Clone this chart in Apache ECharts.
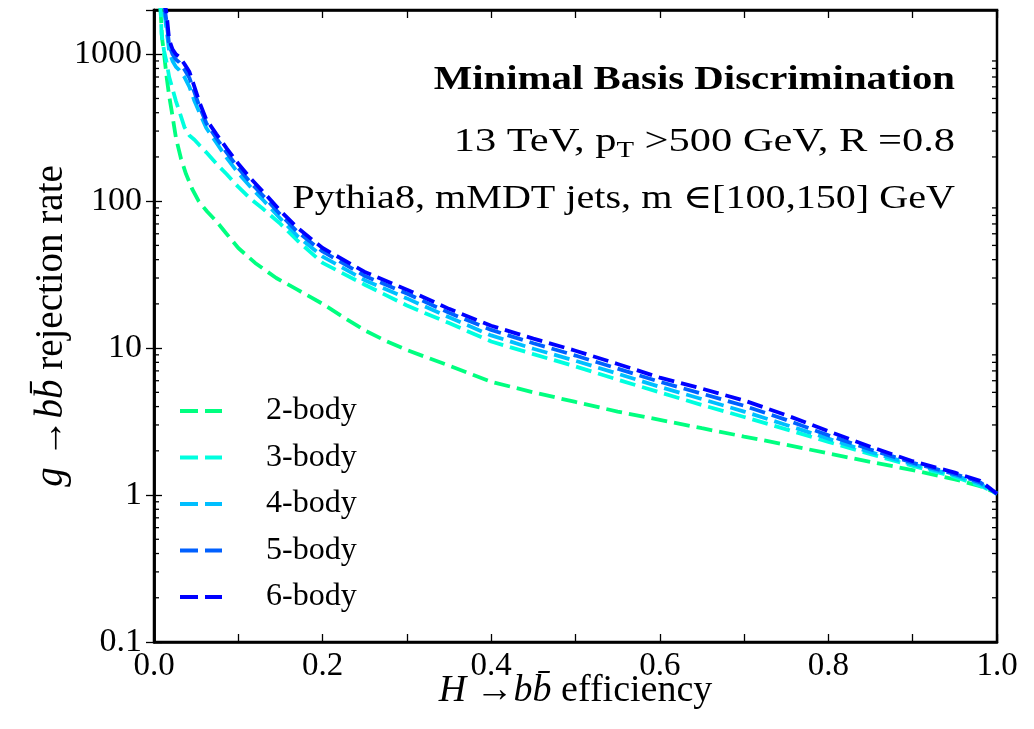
<!DOCTYPE html>
<html>
<head>
<meta charset="utf-8">
<script src="https://cdn.jsdelivr.net/npm/echarts@6/dist/echarts.min.js"></script>
<style>
  html, body { margin: 0; padding: 0; background: #ffffff; }
  #chart { width: 1034px; height: 729px; }
</style>
</head>
<body>
<div id="chart"></div>
<script>
// Curve names and colours (green -> blue as the basis grows)
const SERIES_NAMES = ['2-body', '3-body', '4-body', '5-body', '6-body'];
const SERIES_COLORS = ['#00ff80', '#00ffdf', '#00bfff', '#0060ff', '#0000ff'];

// H->bb efficiency (x) and g->bb rejection rate (y) for each curve
const EFF_2 = [0.006, 0.008, 0.0095, 0.012, 0.015, 0.018, 0.021, 0.026, 0.032, 0.038, 0.045, 0.053, 0.063, 0.074, 0.086,
  0.1, 0.12, 0.145, 0.17, 0.2, 0.225, 0.25, 0.275, 0.3, 0.35, 0.4, 0.45, 0.5, 0.55, 0.6, 0.65, 0.7, 0.75, 0.8, 0.85,
  0.9, 0.95, 0.98, 1.0];
const REJ_2 = [3000, 1900, 1300, 1000, 700, 520, 410, 270, 195, 153, 122, 100, 85, 73, 60,
  48, 38, 30, 25, 20, 16.2, 13.2, 11.2, 9.7, 7.6, 5.9, 5.0, 4.3, 3.7, 3.25, 2.85, 2.5, 2.2, 1.92, 1.68,
  1.48, 1.28, 1.15, 1.03];

const EFF_3 = [0.0075, 0.009, 0.012, 0.015, 0.018, 0.022, 0.026, 0.03, 0.036, 0.042, 0.048, 0.054, 0.062, 0.074, 0.086,
  0.1, 0.115, 0.13, 0.15, 0.17, 0.2, 0.25, 0.3, 0.35, 0.4, 0.45, 0.5, 0.55, 0.6, 0.65, 0.7, 0.75, 0.8, 0.85,
  0.9, 0.95, 0.98, 1.0];
const REJ_3 = [2300, 1370, 1050, 880, 700, 580, 480, 410, 320, 280, 262, 240, 215, 180, 153,
  125, 103, 88, 70, 54, 38, 27, 19.5, 14.8, 11.1, 9.1, 7.5, 6.1, 5.0, 4.1, 3.4, 2.8, 2.3, 1.9,
  1.58, 1.33, 1.16, 1.02];

const EFF_456 = [0.009, 0.012, 0.015, 0.018, 0.022, 0.026, 0.03, 0.036, 0.042, 0.048, 0.054, 0.062, 0.074, 0.086,
  0.1, 0.115, 0.13, 0.15, 0.17, 0.2, 0.25, 0.3, 0.35, 0.4, 0.45, 0.5, 0.55, 0.6, 0.65, 0.7, 0.75, 0.8, 0.85,
  0.9, 0.95, 0.98, 1.0];
const REJ_4 = [4000, 2000, 1450, 1050, 900, 820, 780, 700, 600, 480, 400, 315, 250, 198,
  155, 124, 101, 76, 58, 42, 29, 21.8, 16.2, 12.2, 9.9, 8.2, 6.7, 5.45, 4.5, 3.7, 3.0, 2.42, 1.96,
  1.62, 1.36, 1.19, 1.02];
const REJ_5 = [4500, 2200, 1650, 1150, 1000, 920, 880, 790, 690, 550, 440, 340, 268, 215,
  168, 133, 108, 81, 62, 45.5, 31, 23.5, 17.4, 13.3, 10.8, 8.9, 7.25, 5.9, 4.9, 4.05, 3.25, 2.55, 2.04,
  1.66, 1.39, 1.22, 1.02];
const REJ_6 = [5000, 2400, 1870, 1250, 1080, 1000, 960, 860, 760, 600, 470, 360, 286, 230,
  180, 142, 115, 86, 66, 48, 33, 25, 18.5, 14.2, 11.6, 9.6, 7.8, 6.3, 5.3, 4.4, 3.5, 2.72, 2.13,
  1.70, 1.42, 1.25, 1.02];

// Axis ranges and tick values
const X_MIN = 0, X_MAX = 1, X_STEP = 0.1;
const Y_MIN = 0.1, Y_MAX = 2000;
const Y_MINOR_TICKS = [0.2, 0.3, 0.4, 0.5, 0.6, 0.7, 0.8, 0.9,
  2, 3, 4, 5, 6, 7, 8, 9,
  20, 30, 40, 50, 60, 70, 80, 90,
  200, 300, 400, 500, 600, 700, 800, 900];

// Annotation lines in the upper right of the plot
const TITLE_TEXT = 'Minimal Basis Discrimination';
const INFO_LINE_1 = '13 TeV, p{sub|T} >500 GeV, R =0.8';
const INFO_LINE_2 = 'Pythia8, mMDT jets, m \u2208[100,150] GeV';

const SERIF = '"Liberation Serif", "DejaVu Serif", serif';

// Legend key: two short dashes
const DASH_ICON = 'path://M0,0h18v4h-18zM25,0h17v4h-17z';

const curves = [
  [EFF_2, REJ_2], [EFF_3, REJ_3], [EFF_456, REJ_4], [EFF_456, REJ_5], [EFF_456, REJ_6]
];

const lineSeries = curves.map(function (c, i) {
  return {
    name: SERIES_NAMES[i],
    type: 'line',
    xAxisIndex: 0,
    yAxisIndex: 0,
    data: c[0].map(function (x, k) { return [x, c[1][k]]; }),
    showSymbol: false,
    symbol: 'none',
    clip: true,
    z: 3 + i,
    lineStyle: { color: SERIES_COLORS[i], width: 3.8, type: [16, 7] },
    itemStyle: { color: SERIES_COLORS[i] },
    emphasis: { disabled: true }
  };
});

// Short inward minor ticks on the left and right log axes
const minorTickSeries = {
  type: 'custom',
  xAxisIndex: 0,
  yAxisIndex: 0,
  silent: true,
  z: 10,
  clip: false,
  data: Y_MINOR_TICKS.map(function (v) { return [X_MIN, v]; }),
  renderItem: function (params, api) {
    const v = api.value(1);
    const pl = api.coord([X_MIN, v]);
    const pr = api.coord([X_MAX, v]);
    const st = { stroke: '#000', lineWidth: 1.3 };
    return {
      type: 'group',
      children: [
        { type: 'line', shape: { x1: pl[0], y1: pl[1], x2: pl[0] + 5, y2: pl[1] }, style: st },
        { type: 'line', shape: { x1: pr[0] - 5, y1: pr[1], x2: pr[0], y2: pr[1] }, style: st }
      ]
    };
  }
};

function logLabel(v) {
  const e = Math.log10(v);
  if (Math.abs(e - Math.round(e)) > 1e-6) return '';
  const r = Math.pow(10, Math.round(e));
  return r < 1 ? r.toFixed(-Math.round(e)) : String(r);
}

const axisLineStyle = { show: true, lineStyle: { color: '#000', width: 2.5 } };
const tickStyle = { show: true, inside: true, length: 8, lineStyle: { color: '#000', width: 1.3 } };

const italic = { fontStyle: 'italic', fontFamily: SERIF, fontSize: 38, color: '#000' };

const option = {
  backgroundColor: '#ffffff',
  animation: false,
  grid: {
    left: 154, right: 37, top: 10, bottom: 87,
    outerBoundsMode: 'none',
    show: true, borderColor: '#000', borderWidth: 2.5, backgroundColor: 'transparent'
  },
  legend: {
    data: SERIES_NAMES.map(function (n) { return { name: n, icon: DASH_ICON }; }),
    orient: 'vertical',
    left: 180,
    top: 395,
    padding: 0,
    itemWidth: 42,
    itemHeight: 4,
    itemGap: 14.5,
    selectedMode: false,
    itemStyle: { borderWidth: 0 },
    textStyle: { fontFamily: SERIF, fontSize: 32, color: '#000', padding: [0, 0, 0, 39] }
  },
  xAxis: [
    {
      type: 'value', min: X_MIN, max: X_MAX, interval: X_STEP, position: 'bottom',
      axisLine: axisLineStyle, axisTick: tickStyle, splitLine: { show: false },
      axisLabel: {
        fontFamily: SERIF, fontSize: 33, color: '#000', margin: 8,
        formatter: function (v) { return Math.round(v * 10) % 2 === 0 ? v.toFixed(1) : ''; }
      },
      name: '{it|H} \u2192{it|bb\u0304} efficiency',
      nameLocation: 'middle',
      nameGap: 30,
      nameMoveOverlap: false,
      nameTextStyle: { fontFamily: SERIF, fontSize: 38, color: '#000', rich: { it: italic } }
    },
    {
      type: 'value', min: X_MIN, max: X_MAX, interval: X_STEP, position: 'top',
      axisLine: axisLineStyle, axisTick: tickStyle, axisLabel: { show: false }, splitLine: { show: false }
    }
  ],
  yAxis: [
    {
      type: 'log', logBase: 10, min: Y_MIN, max: Y_MAX, position: 'left',
      axisLine: axisLineStyle, axisTick: tickStyle, splitLine: { show: false }, minorTick: { show: false },
      axisLabel: { fontFamily: SERIF, fontSize: 34, color: '#000', margin: 12, formatter: logLabel },
      name: '{it|g} \u2192{it|bb\u0304} rejection rate',
      nameLocation: 'middle',
      nameGap: 83,
      nameRotate: 90,
      nameMoveOverlap: false,
      nameTextStyle: { fontFamily: SERIF, fontSize: 39, color: '#000', rich: { it: Object.assign({}, italic, { fontSize: 39 }) } }
    },
    {
      type: 'log', logBase: 10, min: Y_MIN, max: Y_MAX, position: 'right',
      axisLine: axisLineStyle, axisTick: tickStyle, axisLabel: { show: false }, splitLine: { show: false }
    }
  ],
  graphic: [
    {
      type: 'text', x: 955, y: 80, scaleX: 1.2, z: 20,
      style: {
        text: TITLE_TEXT, x: 0, y: 0, align: 'right', verticalAlign: 'middle',
        font: 'bold 34px ' + SERIF, fill: '#000'
      }
    },
    {
      type: 'text', x: 955, y: 142, scaleX: 1.25, z: 20,
      style: {
        text: INFO_LINE_1, x: 0, y: 0, align: 'right', verticalAlign: 'middle',
        font: '34px ' + SERIF, fill: '#000',
        rich: { sub: { font: '23px ' + SERIF, fill: '#000', verticalAlign: 'bottom', lineHeight: 40 } }
      }
    },
    {
      type: 'text', x: 955, y: 199, scaleX: 1.18, z: 20,
      style: {
        text: INFO_LINE_2, x: 0, y: 0, align: 'right', verticalAlign: 'middle',
        font: '34px ' + SERIF, fill: '#000'
      }
    }
  ],
  series: lineSeries.concat([minorTickSeries])
};

const chart = echarts.init(document.getElementById('chart'), null, { renderer: 'canvas' });
chart.setOption(option);
</script>
</body>
</html>
